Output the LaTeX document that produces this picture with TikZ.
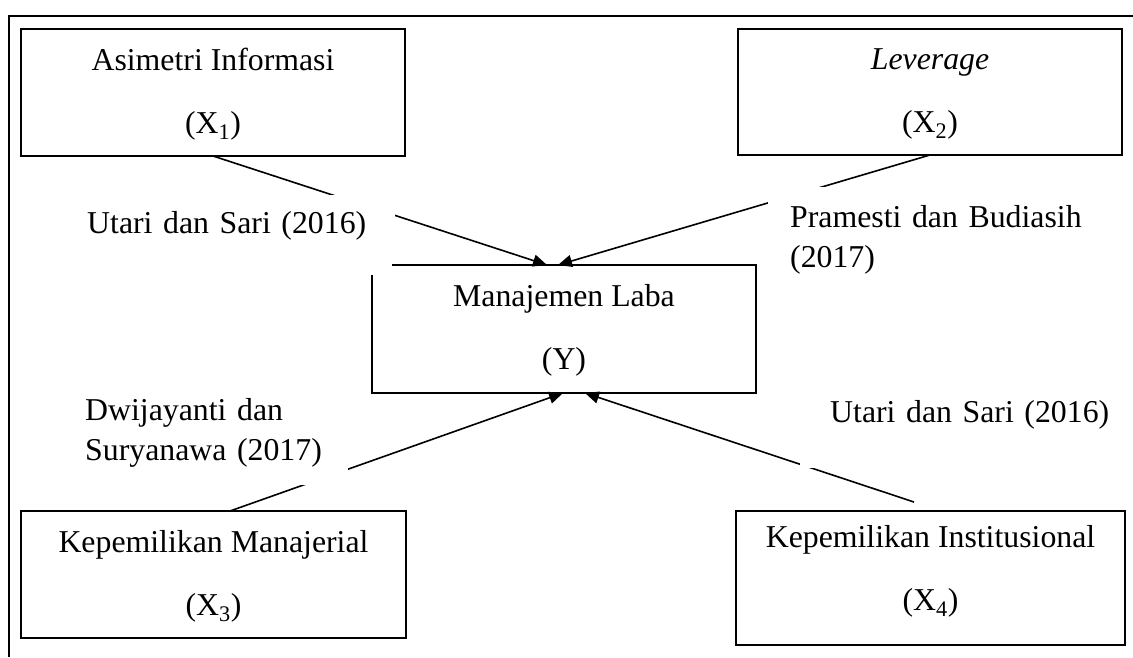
\documentclass[tikz,border=0pt]{standalone}
\usepackage{fontspec}
\setmainfont{Liberation Serif}
\usetikzlibrary{arrows.meta}
\tikzset{
  box/.style={draw, line width=2.8pt, inner sep=0pt, outer sep=0pt, align=center,
    font=\fontsize{31.8pt}{63pt}\selectfont, text height=85pt, text depth=4pt},
  conn/.style={line width=1.6pt, -{Triangle[length=14pt,width=12pt]}},
  lbl/.style={fill=white, inner ysep=0pt, align=left, anchor=north west,
    font=\fontsize{31.8pt}{40pt}\selectfont},
  frameline/.style={line width=2.8pt},
}
\begin{document}
\begin{tikzpicture}[x=1pt,y=-1pt]
\useasboundingbox (0,0) rectangle (1133,657);
% outer frame
\draw[frameline] (9,657) -- (9,16) -- (1133,16);
% boxes
\node[box, minimum width=384pt, minimum height=127pt] (x1) at (213,92.5)
  {Asimetri Informasi\\(X\textsubscript{1})};
\node[box, minimum width=384pt, minimum height=126pt] (x2) at (930,92)
  {\textit{Leverage}\\(X\textsubscript{2})};
\node[box, draw=none, minimum width=384pt, minimum height=128pt] (y) at (564,329)
  {Manajemen Laba\\(Y)};
\draw[line width=2.8pt] ([xshift=20pt]y.north west) -- (y.north east) -- (y.south east)
  -- (y.south west) -- ([yshift=-10pt]y.north west);
\node[box, minimum width=385pt, minimum height=127pt] (x3) at (213.5,574.5)
  {Kepemilikan Manajerial\\(X\textsubscript{3})};
\node[box, minimum width=389pt, minimum height=134pt, text depth=21pt] (x4) at (930.5,578)
  {Kepemilikan Institusional\\(X\textsubscript{4})};
\coordinate (s4) at (914,502);
% connectors
\draw[conn] (x1.south) -- ([xshift=-17pt]y.north);
\draw[conn] (x2.south) -- ([xshift=-6pt]y.north);
\draw[conn] ([xshift=16.5pt]x3.north) -- ([xshift=-1pt]y.south);
\draw[conn] (s4) -- ([xshift=21pt]y.south);
% labels (text boxes)
\node[lbl, inner xsep=12pt, text width=296pt, text height=38pt, text depth=17pt] (l1) at (75,195)
  {Utari dan Sari (2016)};
\node[lbl, inner xsep=22pt, text width=300pt, text height=40pt, text depth=50pt] (l2) at (768,187)
  {Pramesti dan Budiasih\\(2017)};
\node[lbl, inner xsep=12pt, text width=251pt, text height=40pt, text depth=65pt] (l3) at (73,380)
  {Dwijayanti dan\\Suryanawa (2017)};
\node[lbl, inner xsep=30pt, text width=285pt, text height=40pt, text depth=46pt] (l4) at (800,382)
  {Utari dan Sari (2016)};
\end{tikzpicture}
\end{document}
